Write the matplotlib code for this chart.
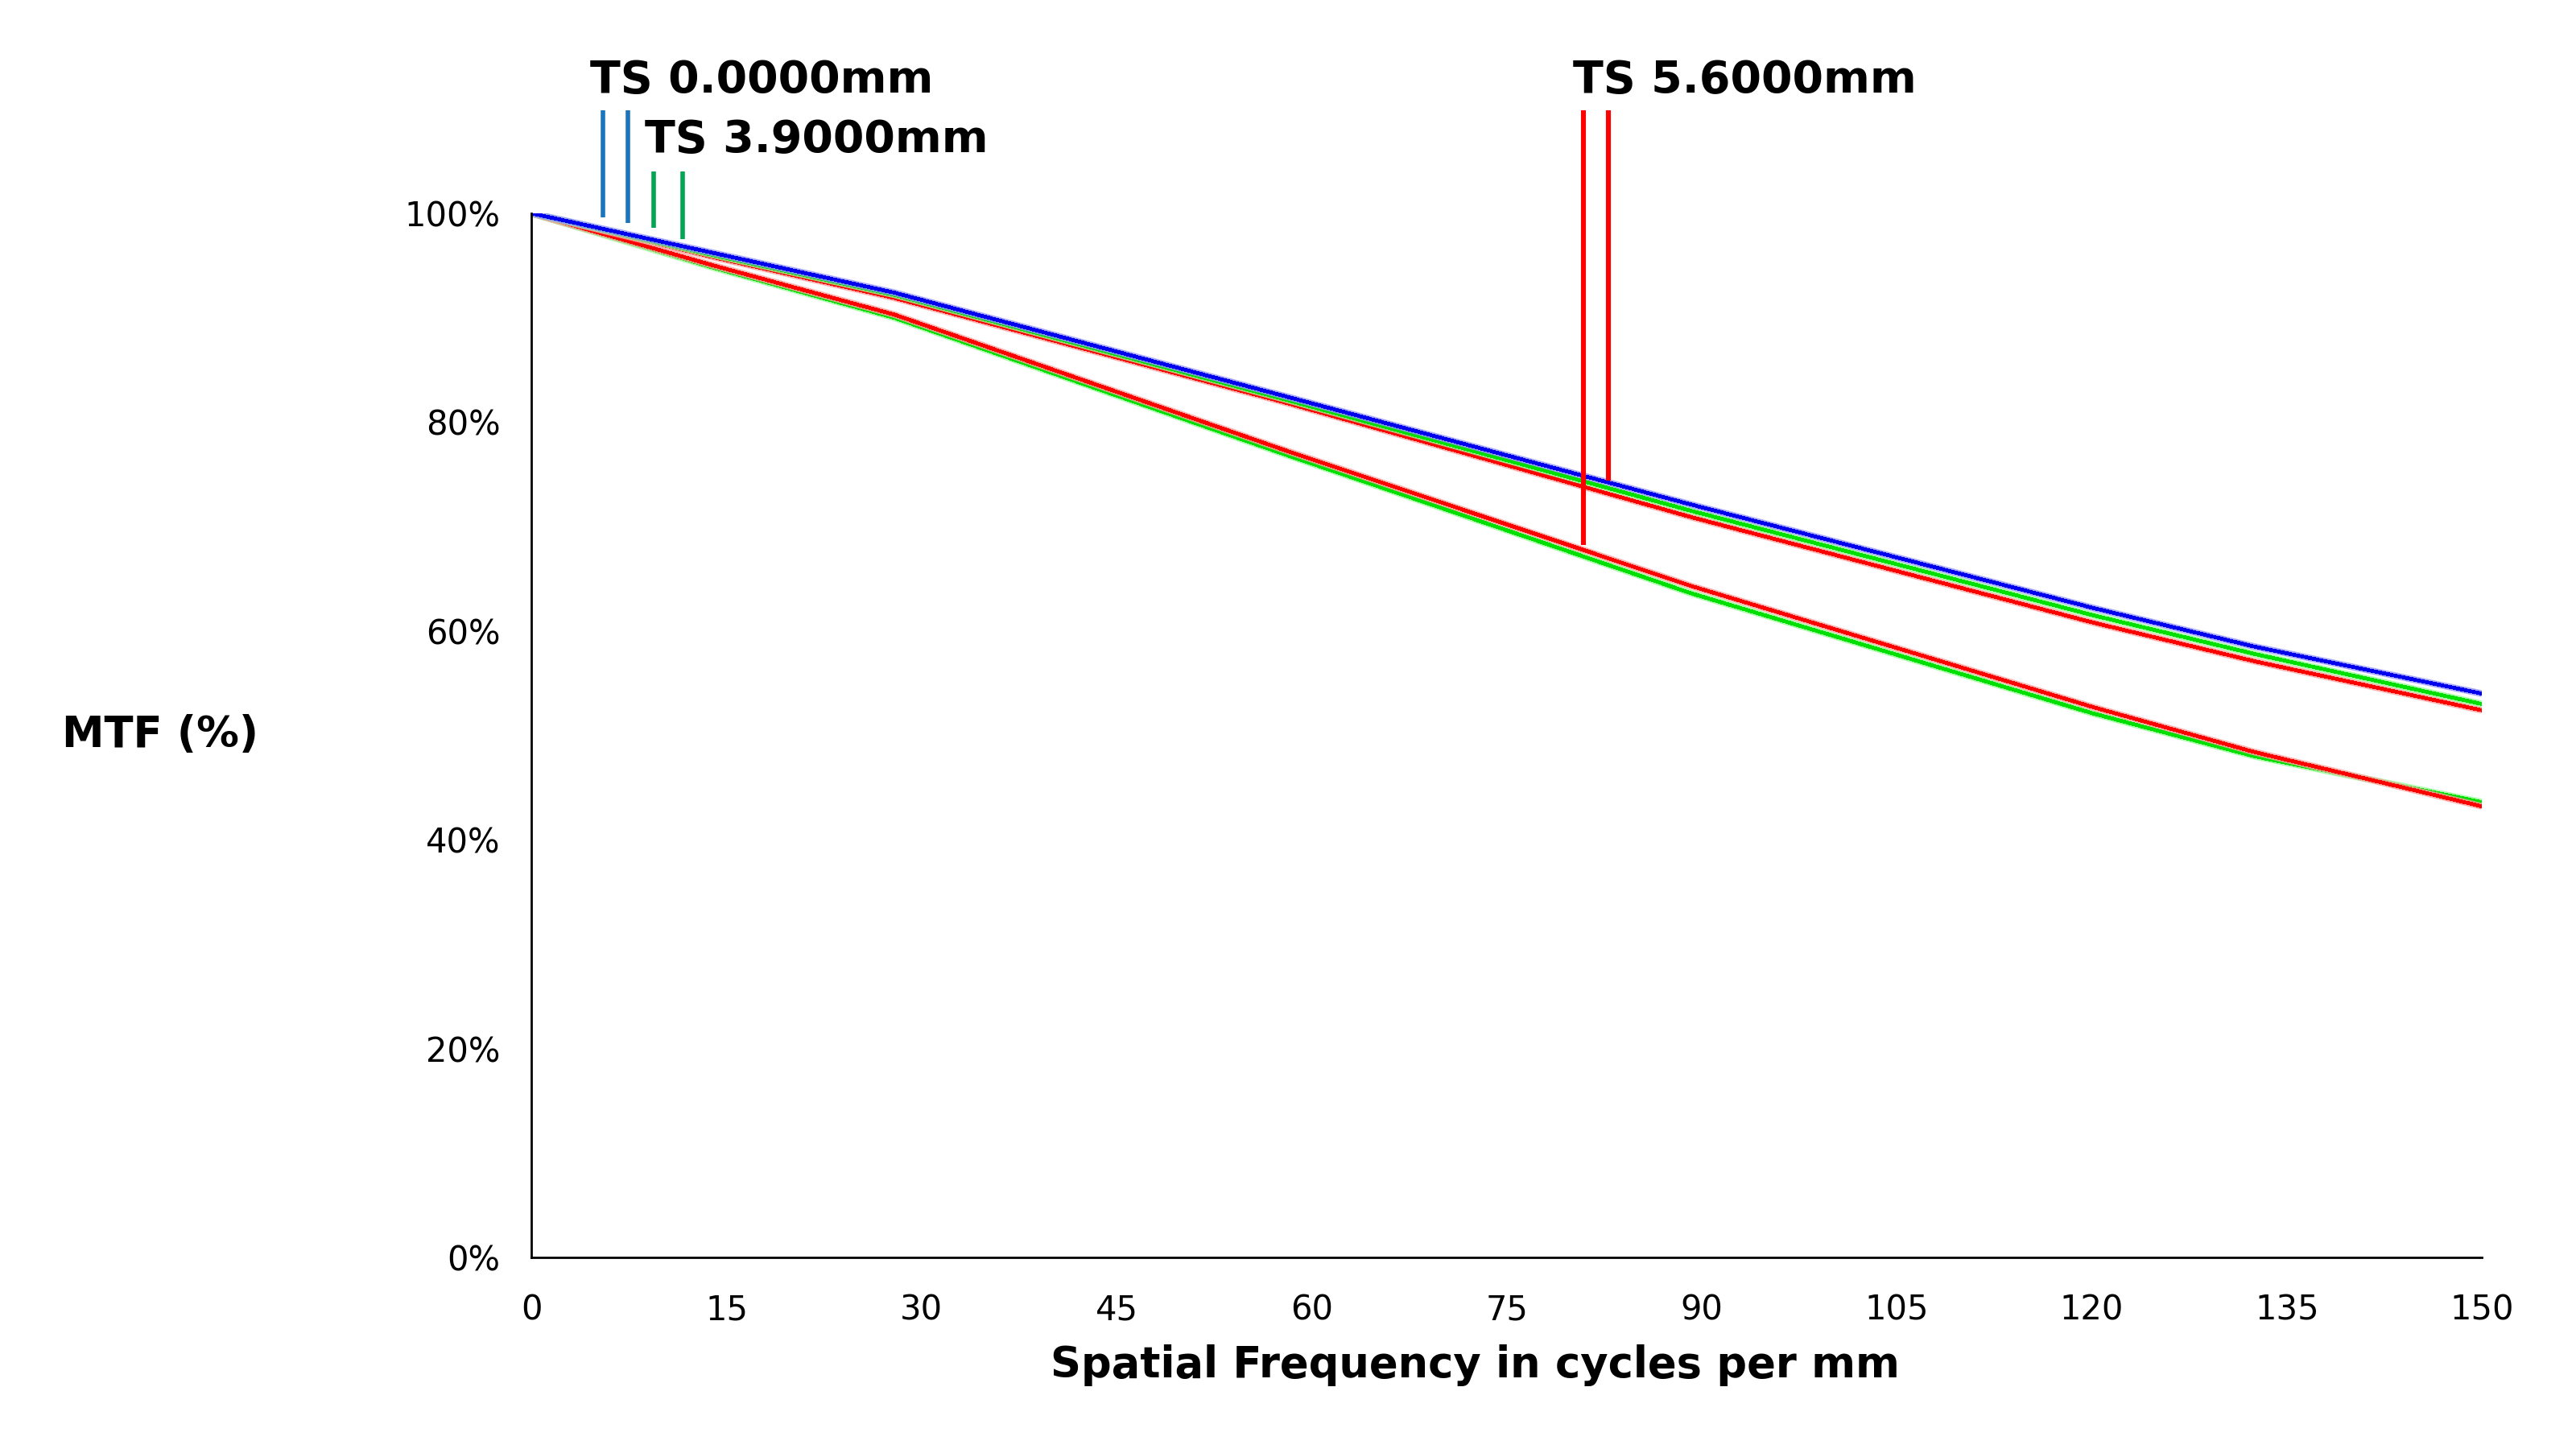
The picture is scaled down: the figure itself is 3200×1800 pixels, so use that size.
import matplotlib
matplotlib.use("Agg")
import matplotlib.pyplot as plt
import numpy as np

# spatial frequency (cycles/mm) where values were read
freq = [0, 14, 27.9, 58.2, 89.2, 120.1, 132.5, 150]

# MTF (%) curves
upper_blue = [100, 96.2, 92.4, 82.4, 72.1, 62.2, 58.5, 54.0]
upper_green = [100, 96.0, 92.2, 82.1, 71.5, 61.5, 57.8, 53.0]
upper_red = [100, 95.8, 91.9, 81.8, 70.9, 60.8, 57.1, 52.4]
lower_red = [100, 95.0, 90.3, 77.2, 64.3, 52.7, 48.4, 43.2]
lower_green = [100, 94.8, 90.0, 76.8, 63.6, 52.1, 48.0, 43.6]

# field markers: x position, top, bottom (in %)
blue_mark_x = [5.5, 7.4]
blue_mark_bottom = [99.6, 99.1]
blue_mark_top = 109.9
green_mark_x = [9.4, 11.6]
green_mark_bottom = [98.6, 97.5]
green_mark_top = 104.0
red_mark_x = [80.9, 82.8]
red_mark_bottom = [68.2, 74.4]
red_mark_top = 109.9

labels = ["TS 0.0000mm", "TS 3.9000mm", "TS 5.6000mm"]
label_x = [4.5, 8.7, 80.1]
label_y = [112.7, 107.0, 112.7]

xticks = list(range(0, 151, 15))
yticks = [0, 20, 40, 60, 80, 100]

plt.rcParams['font.family'] = ['DejaVu Sans']

fig = plt.figure(figsize=(16, 9), dpi=200)
ax = fig.add_axes([0.2063, 0.1322, 0.7572, 0.7206])

curves = [
    (lower_green, "#00e000", "#90ff90"),
    (lower_red, "#ff0000", "#ff9a9a"),
    (upper_red, "#ff0000", "#ff9a9a"),
    (upper_green, "#00e000", "#90ff90"),
    (upper_blue, "#0000ee", "#9090ff"),
]
for vals, col, light in curves:
    ax.plot(freq, vals, color=light, lw=3.0, alpha=0.8, solid_capstyle="butt")
    ax.plot(freq, vals, color=col, lw=1.3, antialiased=False)

ax.vlines(blue_mark_x, blue_mark_bottom, blue_mark_top, color="#1b75bc", lw=2.0, clip_on=False)
ax.vlines(green_mark_x, green_mark_bottom, green_mark_top, color="#00a651", lw=2.0, clip_on=False)
ax.vlines(red_mark_x, red_mark_bottom, red_mark_top, color="#ff0000", lw=2.2, clip_on=False)

for t, lx, ly in zip(labels, label_x, label_y):
    ax.text(lx, ly, t, fontsize=20, fontweight="bold", ha="left", va="center", clip_on=False)

ax.set_xlim(0, 150)
ax.set_ylim(0, 100)
ax.set_xticks(xticks)
ax.set_xticklabels([str(x) for x in xticks], fontsize=15)
ax.set_yticks(yticks)
ax.set_yticklabels([f"{y}%" for y in yticks], fontsize=15)
ax.tick_params(length=0)
ax.tick_params(axis="y", pad=14)
ax.tick_params(axis="x", pad=16)

for s in ["top", "right"]:
    ax.spines[s].set_visible(False)
for s in ["left", "bottom"]:
    ax.spines[s].set_linewidth(1.0)

fig.text(0.5725, 0.0578, "Spatial Frequency in cycles per mm", fontsize=19, fontweight="bold", ha="center", va="center")
fig.text(0.024, 0.493, "MTF (%)", fontsize=19, fontweight="bold", ha="left", va="center")

fig.savefig("out.png", dpi=200)
